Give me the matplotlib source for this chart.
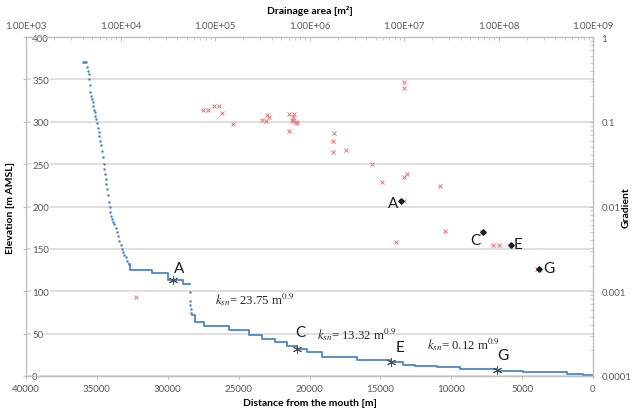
import numpy as np
import matplotlib
matplotlib.use("Agg")
import matplotlib.pyplot as plt
from matplotlib.ticker import FixedLocator, FixedFormatter, LogLocator, NullFormatter

plt.rcParams['font.family'] = ['Lato', 'DejaVu Sans']
plt.rcParams['mathtext.fontset'] = 'stix'

# long profile, steep dotted parts (distance m, elevation m)
steep_up_d = [35980, 35900, 35820, 35740, 35680, 35630, 35580, 35540, 35500, 35450,
              35400, 35340, 35290, 35240, 35190, 35150, 35100, 35040, 34980, 34930,
              34870, 34820, 34760, 34700, 34640, 34580, 34510, 34470, 34430, 34390,
              34330, 34270, 34220, 34160, 34100, 34040, 33980, 33920, 33840, 33760,
              33670, 33570, 33490, 33410, 33330, 33230, 33140, 33060, 32980, 32860,
              32740]
steep_up_e = [370, 370, 370, 370, 365, 360, 356, 350, 343, 335,
              330, 327, 323, 318, 314, 311, 307, 303, 299, 293,
              288, 283, 277, 272, 265, 258, 250, 244, 238, 232,
              226, 221, 213, 205, 199, 193, 189, 185, 182, 179,
              175, 170, 165, 159, 154, 150, 146, 143, 140, 136,
              132]
steep_low_d = [28460, 28440, 28420, 28390, 28350]
steep_low_e = [99, 88, 84, 79, 74]

# stepped parts of the profile
step_up_d = [32740, 32630, 31080, 29950, 28920, 28430]
step_up_e = [132, 125, 121, 113.6, 108.6, 108.6]
step_low_d = [28310, 28078, 27443, 25679, 24268, 23372, 22434, 21610, 20903, 20198,
              19139, 16670, 14270, 13380, 12557, 11005, 9383, 6772, 4938, 1834, 705, 0]
step_low_e = [72.4, 64.1, 58.6, 54.6, 48.4, 43.7, 39.7, 35.8, 31.9, 27.9,
              22.0, 18.9, 16.1, 13.4, 11.5, 10.2, 8.3, 6.3, 4.3, 2.4, 1.2, 1.2]

# knickpoints on the profile
kp_names = ['A', 'C', 'E', 'G']
kp_d = [29630, 20903, 14270, 6772]
kp_e = [113.6, 31.9, 16.1, 7.5]

# slope-area data
area = [1.46e4, 7.52e4, 8.49e4, 9.76e4, 1.10e5, 1.20e5, 1.56e5, 3.14e5, 3.44e5, 3.58e5,
        3.76e5, 6.07e5, 6.86e5, 6.74e5, 6.53e5, 6.74e5, 7.20e5, 7.43e5, 6.02e5, 1.01e7,
        1.01e7, 1.83e6, 1.79e6, 1.77e6, 2.42e6, 4.55e6, 5.80e6, 1.01e7, 1.08e7, 2.40e7,
        9.9e6, 2.74e7, 8.2e6, 6.64e7, 8.67e7, 1.02e8, 2.54e8]
grad = [0.00086, 0.136, 0.136, 0.153, 0.153, 0.127, 0.093, 0.104, 0.103, 0.120,
        0.115, 0.123, 0.124, 0.115, 0.103, 0.105, 0.098, 0.096, 0.077, 0.297,
        0.248, 0.074, 0.0588, 0.0435, 0.0464, 0.0315, 0.0195, 0.0223, 0.0242, 0.0176,
        0.0116, 0.0051, 0.00384, 0.00496, 0.00351, 0.00354, 0.00183]
kp_area = [9.23e6, 6.9e7, 1.35e8, 2.70e8]
kp_grad = [0.0116, 0.00496, 0.00354, 0.00183]

ksn_text = ['23.75', '13.32', '0.12']

top_ticks = [1e3, 1e4, 1e5, 1e6, 1e7, 1e8, 1e9]
top_labels = ['1.00E+03', '1.00E+04', '1.00E+05', '1.00E+06', '1.00E+07', '1.00E+08', '1.00E+09']
right_ticks = [1e-4, 1e-3, 1e-2, 1e-1, 1]
right_labels = ['0.0001', '0.001', '0.01', '0.1', '1']

grey = '#BFBFBF'
tickc = '#595959'
blue = '#4A86C8'

fig = plt.figure(figsize=(6.35, 4.1), dpi=100)
pos = [26/635, 33/410, 567/635, 339/410]
ax = fig.add_axes(pos)

# profile
ax.plot(steep_up_d, steep_up_e, 'o', color=blue, ms=1.8, mew=0)
ax.plot(steep_low_d, steep_low_e, 'o', color=blue, ms=1.8, mew=0)
ax.plot(step_up_d, step_up_e, drawstyle='steps-post', color=blue, lw=1.3)
ax.plot(step_low_d, step_low_e, drawstyle='steps-post', color=blue, lw=1.3)
ax.plot(kp_d, kp_e, ls='none', marker=(6, 2, 0), color='#505050', ms=6.5, mew=0.7)

ax.set_xlim(40000, 0)
ax.set_ylim(0, 400)
ax.set_xticks(np.arange(0, 40001, 5000))
ax.set_yticks(np.arange(0, 401, 50))
ax.yaxis.grid(True, color='#D9D9D9', lw=1.2)
for s in ax.spines.values():
    s.set_color(grey)
    s.set_linewidth(1)
ax.tick_params(axis='x', direction='out', length=2, color=grey, labelsize=7, labelcolor=tickc, pad=4)
ax.tick_params(axis='y', direction='out', length=2, color=grey, labelsize=7, labelcolor=tickc, pad=-6.5)
for lbl in ax.get_yticklabels():
    lbl.set_horizontalalignment('left')
    lbl.set_bbox(dict(facecolor='white', edgecolor='none', pad=0.6))
ax.set_xlabel('Distance from the mouth [m]', fontsize=7.5, fontweight='bold')
ax.xaxis.set_label_coords(0.5, -0.066)
ax.set_ylabel('Elevation [m AMSL]', fontsize=7.5, fontweight='bold')
ax.yaxis.set_label_coords(-0.019, 0.5)

# labels on the profile
prof_lab_d = [29200, 20620, 13615, 6370]
prof_lab_e = [127, 52, 34.6, 25]
for n, x, y in zip(kp_names, prof_lab_d, prof_lab_e):
    ax.text(x, y, n, fontsize=11, ha='center', va='center', color='#1a1a1a')

ksn_d = [26667, 19471, 11711]
ksn_e = [91, 49.6, 38.5]
for t, x, y in zip(ksn_text, ksn_d, ksn_e):
    ax.text(x, y, r'$k_{sn}$= ' + t + r' m$^{0.9}$', fontsize=9.2, family='Liberation Serif',
            ha='left', va='center', color='#262626')

# slope-area on top/right axes
ax2 = fig.add_axes(pos, frameon=False, label='area')
ax2.set_xscale('log')
ax2.set_yscale('log')
ax2.plot(area, grad, 'x', color='#E57373', ms=3.3, mew=0.7)
ax2.plot(kp_area, kp_grad, 'D', color='#1C1C2E', ms=2.8)
ax2.set_xlim(1e3, 1e9)
ax2.set_ylim(1e-4, 1)
ax2.xaxis.tick_top()
ax2.yaxis.tick_right()
ax2.xaxis.set_label_position('top')
ax2.yaxis.set_label_position('right')
ax2.xaxis.set_major_locator(FixedLocator(top_ticks))
ax2.xaxis.set_major_formatter(FixedFormatter(top_labels))
ax2.yaxis.set_major_locator(FixedLocator(right_ticks))
ax2.yaxis.set_major_formatter(FixedFormatter(right_labels))
ax2.xaxis.set_minor_locator(LogLocator(base=10, subs=np.arange(2, 10)))
ax2.yaxis.set_minor_locator(LogLocator(base=10, subs=np.arange(2, 10)))
ax2.xaxis.set_minor_formatter(NullFormatter())
ax2.yaxis.set_minor_formatter(NullFormatter())
ax2.tick_params(axis='x', which='major', direction='in', length=3, color=grey, labelsize=7, labelcolor=tickc, pad=5)
ax2.tick_params(axis='y', which='major', direction='in', length=3, color=grey, labelsize=7, labelcolor=tickc, pad=6)
ax2.tick_params(which='minor', direction='in', length=2, color=grey)
ax2.set_xlabel('Drainage area [m²]', fontsize=7.5, fontweight='bold')
ax2.xaxis.set_label_coords(0.5, 1.07)
ax2.set_ylabel('Gradient', fontsize=7.5, fontweight='bold', rotation=90)
ax2.yaxis.set_label_coords(1.051, 0.5)

sa_lab_a = [7.66e6, 5.64e7, 1.61e8, 3.42e8]
sa_lab_g = [0.011, 0.00406, 0.0036, 0.00188]
for n, x, y in zip(kp_names, sa_lab_a, sa_lab_g):
    ax2.text(x, y, n, fontsize=11, ha='center', va='center', color='#1a1a1a')

fig.savefig('out.png', dpi=100)
